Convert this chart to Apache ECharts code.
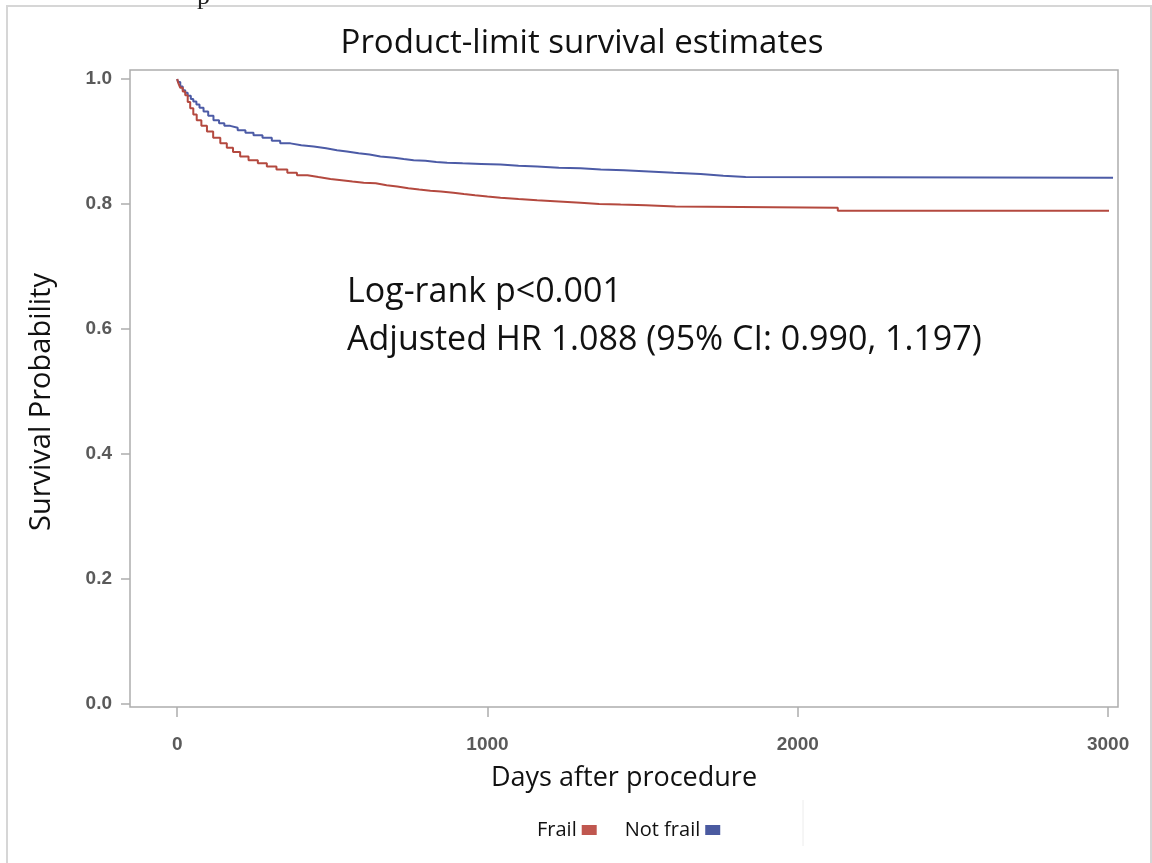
<!DOCTYPE html>
<html>
<head>
<meta charset="utf-8">
<script src="https://cdn.jsdelivr.net/npm/echarts@6/dist/echarts.min.js"></script>
<style>html,body{margin:0;padding:0;background:#fff}#c{width:1152px;height:863px}</style>
</head>
<body>
<div id="c"></div>
<script>
const notFrailDays = [0,3,10,18,26,34,44,52,62,72,85,100,117,135,152,171,195,220,246,275,305,332,365,400,440,480,515,547,585,620,655,700,730,762,800,835,870,920,980,1042,1100,1160,1230,1300,1365,1440,1520,1600,1687,1760,1832,3016];
const notFrailSurv = [1.0,0.995,0.988,0.982,0.978,0.973,0.968,0.964,0.959,0.954,0.948,0.941,0.934,0.929,0.925,0.922,0.918,0.914,0.910,0.906,0.901,0.897,0.894,0.892,0.889,0.886,0.884,0.881,0.879,0.876,0.874,0.872,0.870,0.869,0.867,0.866,0.865,0.864,0.863,0.861,0.860,0.858,0.857,0.855,0.854,0.852,0.850,0.848,0.845,0.843,0.842,0.842];
const frailDays = [0,4,10,18,26,34,42,52,63,78,96,116,139,160,180,203,230,260,289,320,355,386,420,455,494,530,565,601,640,675,709,745,780,816,850,890,924,960,1000,1042,1100,1160,1230,1300,1360,1429,1510,1606,2129,3003];
const frailSurv = [1.0,0.993,0.986,0.980,0.974,0.963,0.953,0.943,0.934,0.925,0.916,0.906,0.897,0.890,0.883,0.876,0.870,0.865,0.860,0.855,0.850,0.846,0.843,0.840,0.838,0.836,0.834,0.833,0.830,0.828,0.825,0.823,0.821,0.820,0.818,0.816,0.814,0.812,0.810,0.808,0.806,0.804,0.802,0.800,0.799,0.798,0.796,0.794,0.789,0.789];
const xTicks = [0,1000,2000,3000];
const yTicks = [0,0.2,0.4,0.6,0.8,1.0];

const chart = echarts.init(document.getElementById('c'));
const pairs = (xs, ys) => xs.map((x, i) => [x, ys[i]]);
const F = 'Open Sans';
chart.setOption({
  animation: false,
  backgroundColor: '#fff',
  title: {
    text: 'Product-limit survival estimates',
    left: 577, top: 22, textAlign: 'center',
    textStyle: { fontFamily: F, fontWeight: 'normal', fontSize: 33, color: '#111' }
  },
  grid: { left: 130, right: 34, top: 70, bottom: 156, show: true, borderColor: '#adadad', borderWidth: 1.5, backgroundColor: 'transparent' },
  xAxis: {
    type: 'value', min: -152, max: 3032,
    name: 'Days after procedure', nameLocation: 'middle', nameGap: 58,
    nameTextStyle: { fontFamily: F, fontSize: 27, color: '#111' },
    axisLine: { show: false, onZero: false },
    axisTick: { show: true, customValues: xTicks, length: 10, lineStyle: { color: '#adadad', width: 1.5 } },
    axisLabel: { customValues: xTicks, formatter: v => String(v), fontFamily: 'Liberation Sans', fontWeight: 'bold', fontSize: 19, color: '#5a5a5a', margin: 28 },
    splitLine: { show: false }
  },
  yAxis: {
    type: 'value', min: -0.005, max: 1.0144,
    axisLine: { show: false, onZero: false },
    axisTick: { show: true, customValues: yTicks, length: 9, lineStyle: { color: '#adadad', width: 1.5 } },
    axisLabel: { customValues: yTicks, formatter: v => v.toFixed(1), fontFamily: 'Liberation Sans', fontWeight: 'bold', fontSize: 19, color: '#5a5a5a', margin: 18 },
    splitLine: { show: false }
  },
  legend: {
    left: 532, top: 815, align: 'right', itemGap: 28, itemWidth: 15, itemHeight: 10, icon: 'rect',
    textStyle: { fontFamily: F, fontSize: 20, color: '#111' },
    data: ['Frail', 'Not frail']
  },
  series: [
    { name: 'Frail', type: 'line', step: 'end', showSymbol: false, data: pairs(frailDays, frailSurv),
      lineStyle: { color: '#b4493f', width: 2 }, itemStyle: { color: '#c0574f' }, z: 3 },
    { name: 'Not frail', type: 'line', step: 'end', showSymbol: false, data: pairs(notFrailDays, notFrailSurv),
      lineStyle: { color: '#4c5ba6', width: 2 }, itemStyle: { color: '#4a5aa0' }, z: 2 }
  ],
  graphic: [
    { type: 'rect', shape: { x: 7, y: 6, width: 1144, height: 880 }, style: { fill: 'none', stroke: '#d6d6d6', lineWidth: 2 }, silent: true },
    { type: 'line', shape: { x1: 803, y1: 800, x2: 803, y2: 846 }, style: { stroke: '#ececec', lineWidth: 1 }, silent: true },
    { type: 'text', x: 197, y: -16, style: { text: 'p', fontFamily: 'Liberation Serif', fontSize: 26, fill: '#222' }, silent: true },
    { type: 'text', x: 42, y: 402, rotation: Math.PI / 2, style: { text: 'Survival Probability', fontFamily: F, fontSize: 29, fill: '#111', align: 'center', verticalAlign: 'middle' }, silent: true },
    { type: 'text', x: 347, y: 275, style: { text: 'Log-rank p<0.001', fontFamily: F, fontSize: 34, fill: '#111' }, silent: true },
    { type: 'text', x: 347, y: 323, style: { text: 'Adjusted HR 1.088 (95% CI: 0.990, 1.197)', fontFamily: F, fontSize: 34, fill: '#111' }, silent: true }
  ]
});
</script>
</body>
</html>
